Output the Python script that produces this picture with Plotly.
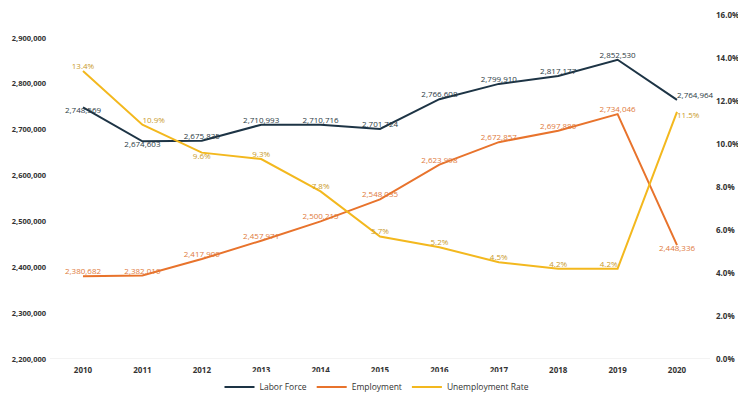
import plotly.graph_objects as go

years = ["2010", "2011", "2012", "2013", "2014", "2015", "2016", "2017", "2018", "2019", "2020"]
labor_force = [2748569, 2674603, 2675835, 2710993, 2710716, 2701724, 2766608, 2799910, 2817177, 2852530, 2764964]
employment = [2380682, 2382010, 2417900, 2457971, 2500215, 2548035, 2623998, 2672857, 2697880, 2734046, 2448336]
unemp_rate = [13.4, 10.9, 9.6, 9.3, 7.8, 5.7, 5.2, 4.5, 4.2, 4.2, 11.5]
pct_ticks = [0, 2, 4, 6, 8, 10, 12, 14, 16]
count_ticks = [2200000, 2300000, 2400000, 2500000, 2600000, 2700000, 2800000, 2900000]

c_lf = "#1d3445"
c_emp = "#e8732c"
c_ur = "#f3b81e"
font_fam = "Open Sans, Noto Sans, sans-serif"

lf_pos = ["bottom center", "bottom center", "top center", "top center", "top center", "top center",
          "top center", "top center", "top center", "top center", "top right"]
emp_pos = ["top center"] * 10 + ["bottom center"]
ur_pos = ["top center", "top right", "bottom center", "top center", "top center", "top center",
          "top center", "top center", "top center", "top left", "bottom right"]

fig = go.Figure()
fig.add_trace(go.Scatter(
    x=years, y=labor_force, name="Labor Force", mode="lines+text", cliponaxis=False,
    line=dict(color=c_lf, width=2),
    text=[f"{v:,}" for v in labor_force], textposition=lf_pos,
    textfont=dict(family=font_fam, size=8, color="#2b3a44"),
))
fig.add_trace(go.Scatter(
    x=years, y=employment, name="Employment", mode="lines+text", cliponaxis=False,
    line=dict(color=c_emp, width=2),
    text=[f"{v:,}" for v in employment], textposition=emp_pos,
    textfont=dict(family=font_fam, size=8, color="#e07a3c"),
))
fig.add_trace(go.Scatter(
    x=years, y=unemp_rate, name="Unemployment Rate", mode="lines+text", yaxis="y2", cliponaxis=False,
    line=dict(color=c_ur, width=2),
    text=[f"{v:.1f}%" for v in unemp_rate], textposition=ur_pos,
    textfont=dict(family=font_fam, size=8, color="#c99a2a"),
))

tickfont = dict(family=font_fam, size=8, color="#333", weight="bold")
ytickfont = dict(family=font_fam, size=7.5, color="#333", weight="bold")

pct_top = 16.05
count_top = 2200000 + 750000 * pct_top / 16

fig.update_layout(
    width=738, height=391,
    margin=dict(l=42, r=36, t=6, b=40, autoexpand=False),
    paper_bgcolor="white", plot_bgcolor="white",
    font=dict(family=font_fam, size=8, color="#333"),
    xaxis=dict(type="category", showgrid=False, showline=False, zeroline=False, automargin=False,
               ticks="", tickfont=tickfont, ticklabelstandoff=5),
    yaxis=dict(range=[2200000, count_top], tickvals=count_ticks,
               tickformat=",d", showgrid=False, zeroline=False, showline=False, automargin=False,
               tickfont=ytickfont, ticks="", ticklabelstandoff=3, ticklabeloverflow="allow"),
    yaxis2=dict(range=[0, pct_top], tickvals=pct_ticks,
                ticktext=[f"{v:.1f}%" for v in pct_ticks],
                overlaying="y", side="right", showgrid=False, zeroline=False, showline=False,
                automargin=False, tickfont=tickfont, ticks="", ticklabelstandoff=5,
                ticklabeloverflow="allow"),
    legend=dict(orientation="h", x=0.5, xanchor="center", xref="container",
                y=0.031, yanchor="middle", yref="container",
                font=dict(size=8.5, color="#333"), itemwidth=30, tracegroupgap=0),
    showlegend=True,
)
fig.add_shape(type="line", xref="paper", yref="y", x0=0, x1=1, y0=2200000, y1=2200000,
              line=dict(color="#e6e6e6", width=1), layer="below")

fig.write_html("out.html")
